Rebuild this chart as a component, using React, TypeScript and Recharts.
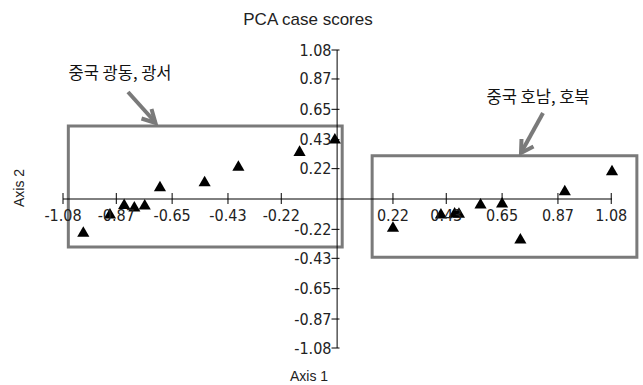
import {
  ScatterChart,
  Scatter,
  XAxis,
  YAxis,
  ZAxis,
  ReferenceLine,
  ReferenceArea,
} from "recharts";

// case scores (Axis 1, Axis 2)
const axis1 = [
  -1.0, -0.895, -0.839, -0.799, -0.758, -0.698, -0.522, -0.389, -0.148, -0.009,
  0.22, 0.409, 0.463, 0.48, 0.565, 0.65, 0.722, 0.897, 1.083,
];
const axis2 = [
  -0.249, -0.116, -0.047, -0.065, -0.051, 0.082, 0.118, 0.23, 0.338, 0.428,
  -0.212, -0.116, -0.109, -0.111, -0.043, -0.036, -0.297, 0.053, 0.198,
];
const tickValues = [-1.08, -0.87, -0.65, -0.43, -0.22, 0.22, 0.43, 0.65, 0.87, 1.08];

// group boxes [x1, x2, y1, y2]
const groupBoxes = [
  [-1.059, 0.02, -0.348, 0.529],
  [0.138, 1.181, -0.422, 0.314],
];

const points = axis1.map((x, i) => ({ x, y: axis2[i] }));

const W = 643;
const H = 385;
// axes take 1px each (a 0px axis is not drawn at all)
const MARGIN = { top: 50, right: 31, bottom: 36, left: 62 };
const PLOT_LEFT = 63;
const PLOT_TOP = 50;
const CX = PLOT_LEFT + (W - PLOT_LEFT - MARGIN.right) / 2;
const CY = PLOT_TOP + (H - PLOT_TOP - 37) / 2;

const tickFont = "'Liberation Sans Narrow', 'DejaVu Sans Condensed', sans-serif";
const textColor = "#222";

function XTick({ x, payload }: any) {
  return (
    <g>
      <line x1={x} x2={x} y1={CY - 6} y2={CY + 5} stroke="#000" />
      <text
        x={x}
        y={CY + 16}
        textAnchor="middle"
        dominantBaseline="central"
        fontFamily={tickFont}
        fontSize={16}
        fill={textColor}
      >
        {payload.value.toFixed(2)}
      </text>
    </g>
  );
}

function YTick({ y, payload }: any) {
  return (
    <g>
      <line x1={CX - 6} x2={CX + 2} y1={y} y2={y} stroke="#000" />
      <text
        x={CX - 6}
        y={y}
        textAnchor="end"
        dominantBaseline="central"
        fontFamily={tickFont}
        fontSize={16}
        fill={textColor}
      >
        {payload.value.toFixed(2)}
      </text>
    </g>
  );
}

export default function App() {
  return (
    <div
      style={{
        position: "absolute",
        left: 0,
        top: 0,
        width: W,
        height: H,
        background: "#fff",
      }}
    >
      <ScatterChart width={W} height={H} margin={MARGIN}>
        <XAxis
          type="number"
          dataKey="x"
          domain={[-1.08, 1.08]}
          ticks={tickValues}
          interval={0}
          height={1}
          axisLine={false}
          tickLine={false}
          tick={(p: any) => <XTick {...p} />}
        />
        <YAxis
          type="number"
          dataKey="y"
          domain={[-1.08, 1.08]}
          ticks={tickValues}
          interval={0}
          width={1}
          axisLine={false}
          tickLine={false}
          tick={(p: any) => <YTick {...p} />}
        />
        <ZAxis range={[52, 52]} />
        <ReferenceLine y={0} stroke="#000" strokeWidth={1} />
        <ReferenceLine x={0} stroke="#000" strokeWidth={1} />
        {groupBoxes.map((b, i) => (
          <ReferenceArea
            key={i}
            x1={b[0]}
            x2={b[1]}
            y1={b[2]}
            y2={b[3]}
            fill="none"
            fillOpacity={0}
            stroke="#7a7a7a"
            strokeWidth={3}
            ifOverflow="visible"
          />
        ))}
        <Scatter
          data={points}
          shape="triangle"
          fill="#000"
          isAnimationActive={false}
        />
      </ScatterChart>

      {/* title, axis names, group notes and arrows */}
      <svg
        width={W}
        height={H}
        style={{ position: "absolute", left: 0, top: 0, pointerEvents: "none" }}
      >
        <text
          x={308}
          y={19}
          textAnchor="middle"
          dominantBaseline="central"
          fontFamily="'Liberation Sans', Arial, sans-serif"
          fontSize={17}
          fill={textColor}
        >
          PCA case scores
        </text>
        <text
          x={309}
          y={376}
          textAnchor="middle"
          dominantBaseline="central"
          fontFamily="'Liberation Sans', Arial, sans-serif"
          fontSize={14}
          fill={textColor}
        >
          Axis 1
        </text>
        <text
          transform="translate(19,188) rotate(-90)"
          textAnchor="middle"
          dominantBaseline="central"
          fontFamily="'Liberation Sans', Arial, sans-serif"
          fontSize={14}
          fill={textColor}
        >
          Axis 2
        </text>
        <text
          x={120}
          y={72}
          textAnchor="middle"
          dominantBaseline="central"
          fontFamily="'Noto Sans CJK KR', sans-serif"
          fontSize={16.5}
          fill="#111"
        >
          중국 광동, 광서
        </text>
        <text
          x={538}
          y={96}
          textAnchor="middle"
          dominantBaseline="central"
          fontFamily="'Noto Sans CJK KR', sans-serif"
          fontSize={16.5}
          fill="#111"
        >
          중국 호남, 호북
        </text>
        <g stroke="#7a7a7a" strokeWidth={4} fill="none">
          <line x1={128} y1={92} x2={155} y2={122} />
          <polyline points="151.5,109 155.5,123 141.5,118.5" />
          <line x1={543} y1={113} x2={522} y2={151} />
          <polyline points="521.5,139 521,153 533.5,146.5" />
        </g>
      </svg>
    </div>
  );
}
